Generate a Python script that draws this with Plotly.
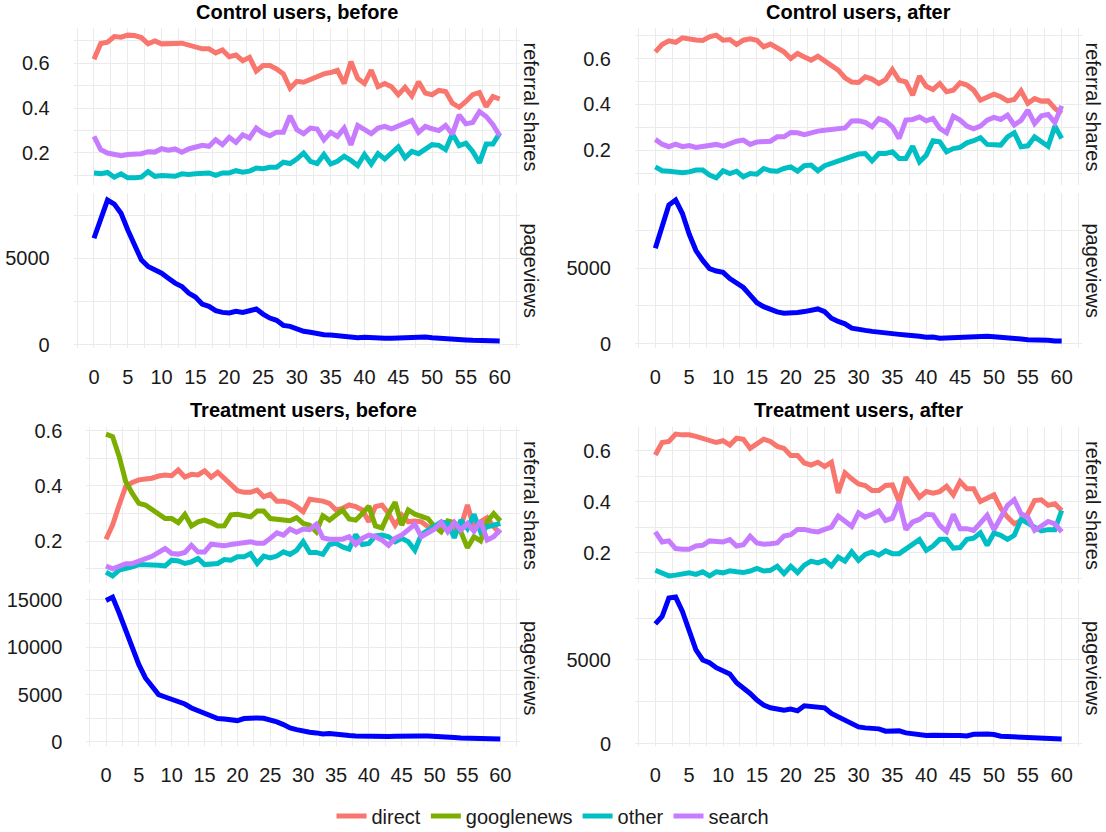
import plotly.graph_objects as go

days = list(range(0, 61))

# ---------------- Control users, before ----------------
cb_direct = [0.618,0.689,0.695,0.72,0.717,0.726,0.724,0.715,0.687,0.70,
             0.687,0.69,0.689,0.69,0.68,0.67,0.665,0.665,0.647,0.66,
             0.63,0.637,0.612,0.627,0.566,0.59,0.59,0.575,0.553,0.489,
             0.52,0.516,0.53,0.54,0.553,0.559,0.569,0.51,0.607,0.533,
             0.51,0.57,0.496,0.51,0.496,0.46,0.493,0.455,0.518,0.467,
             0.46,0.479,0.474,0.422,0.404,0.43,0.46,0.47,0.407,0.452,0.441]
cb_other = [0.111,0.108,0.113,0.092,0.107,0.089,0.089,0.092,0.117,0.096,
            0.099,0.1,0.096,0.107,0.104,0.107,0.107,0.111,0.1,0.111,
            0.111,0.121,0.114,0.119,0.133,0.13,0.136,0.136,0.159,0.153,
            0.173,0.2,0.163,0.153,0.193,0.151,0.163,0.185,0.167,0.144,
            0.193,0.151,0.197,0.173,0.2,0.227,0.178,0.207,0.197,0.215,
            0.237,0.234,0.215,0.286,0.233,0.244,0.207,0.156,0.24,0.24,0.289]
cb_search = [0.274,0.215,0.2,0.196,0.188,0.193,0.193,0.197,0.206,0.204,
             0.219,0.212,0.218,0.203,0.218,0.225,0.234,0.23,0.259,0.237,
             0.27,0.247,0.281,0.267,0.311,0.289,0.277,0.293,0.293,0.366,
             0.304,0.286,0.311,0.307,0.259,0.292,0.274,0.311,0.236,0.323,
             0.304,0.286,0.311,0.319,0.308,0.321,0.333,0.345,0.292,0.319,
             0.308,0.3,0.323,0.284,0.37,0.33,0.336,0.385,0.363,0.326,0.277]
cb_pageviews = [6154,7250,8365,8135,7596,6635,5769,4904,4519,4327,
                4135,3846,3558,3365,2981,2750,2346,2212,1962,1865,
                1827,1923,1865,1962,2058,1769,1538,1404,1115,1058,
                904,769,712,635,577,558,519,481,404,404,
                423,385,385,365,365,385,365,442,462,442,
                404,365,327,327,269,269,250,231,250,231,212]

# ---------------- Control users, after ----------------
ca_direct = [0.629,0.661,0.677,0.671,0.69,0.683,0.681,0.679,0.695,0.702,
             0.68,0.683,0.661,0.68,0.686,0.68,0.651,0.663,0.644,0.629,
             0.6,0.622,0.607,0.593,0.61,0.588,0.568,0.549,0.516,0.497,
             0.495,0.52,0.51,0.491,0.508,0.552,0.505,0.498,0.44,0.523,
             0.479,0.465,0.491,0.455,0.462,0.494,0.484,0.462,0.418,0.433,
             0.444,0.433,0.415,0.421,0.459,0.404,0.425,0.414,0.415,0.382,0.36]
ca_other = [0.127,0.11,0.108,0.105,0.101,0.105,0.113,0.113,0.091,0.079,
            0.11,0.098,0.108,0.084,0.098,0.095,0.12,0.11,0.108,0.12,
            0.127,0.108,0.132,0.135,0.11,0.132,0.142,0.156,0.164,0.174,
            0.183,0.185,0.153,0.185,0.185,0.193,0.164,0.164,0.217,0.149,
            0.178,0.241,0.236,0.193,0.207,0.212,0.232,0.241,0.254,0.225,
            0.222,0.222,0.258,0.276,0.215,0.219,0.258,0.236,0.217,0.305,0.251]
ca_search = [0.247,0.226,0.215,0.226,0.215,0.22,0.212,0.217,0.222,0.225,
             0.217,0.229,0.239,0.244,0.225,0.236,0.239,0.239,0.258,0.258,
             0.277,0.276,0.268,0.277,0.283,0.287,0.292,0.297,0.297,0.327,
             0.328,0.321,0.302,0.337,0.327,0.302,0.251,0.331,0.334,0.345,
             0.328,0.338,0.295,0.276,0.348,0.331,0.305,0.293,0.305,0.331,
             0.343,0.334,0.353,0.31,0.33,0.375,0.316,0.35,0.356,0.32,0.393]
ca_pageviews = [6304,7674,9152,9478,8587,7239,6152,5500,4957,4804,
                4717,4304,3978,3717,3217,2717,2457,2239,2109,2022,
                2022,2065,2130,2239,2304,2130,1696,1478,1326,1043,
                1000,891,826,761,717,674,630,587,565,500,
                435,457,370,391,413,478,500,522,500,500,
                478,457,413,370,326,283,283,261,239,196,196]

# ---------------- Treatment users, before ----------------
tb_direct = [0.207,0.258,0.331,0.398,0.413,0.422,0.425,0.428,0.436,0.44,
             0.437,0.458,0.432,0.442,0.44,0.455,0.432,0.45,0.428,0.406,
             0.383,0.377,0.377,0.385,0.361,0.37,0.345,0.345,0.339,0.325,
             0.307,0.352,0.349,0.345,0.337,0.313,0.319,0.331,0.325,0.313,
             0.27,0.325,0.331,0.3,0.258,0.295,0.27,0.273,0.27,0.252,
             0.246,0.255,0.258,0.24,0.252,0.331,0.248,0.27,0.285,0.252,0.228]
tb_googlenews = [0.588,0.579,0.507,0.416,0.373,0.337,0.331,0.313,0.298,0.282,
                 0.282,0.267,0.297,0.255,0.27,0.276,0.267,0.255,0.256,0.295,
                 0.297,0.291,0.288,0.309,0.309,0.282,0.28,0.28,0.274,0.285,
                 0.264,0.258,0.234,0.292,0.276,0.295,0.313,0.28,0.276,0.3,
                 0.327,0.255,0.248,0.3,0.341,0.258,0.313,0.298,0.292,0.282,
                 0.252,0.234,0.273,0.267,0.234,0.176,0.216,0.201,0.27,0.3,0.273]
tb_other = [0.088,0.074,0.095,0.1,0.107,0.115,0.115,0.113,0.113,0.11,
            0.131,0.128,0.119,0.125,0.137,0.115,0.115,0.119,0.133,0.131,
            0.143,0.143,0.155,0.119,0.146,0.139,0.146,0.161,0.152,0.167,
            0.198,0.159,0.159,0.152,0.188,0.192,0.179,0.171,0.224,0.188,
            0.192,0.219,0.222,0.216,0.198,0.21,0.198,0.167,0.224,0.24,
            0.252,0.27,0.264,0.212,0.276,0.246,0.297,0.234,0.252,0.258,0.264]
tb_search = [0.11,0.1,0.109,0.118,0.119,0.127,0.135,0.145,0.159,0.173,
             0.155,0.153,0.159,0.185,0.161,0.161,0.189,0.185,0.183,0.188,
             0.192,0.198,0.198,0.192,0.192,0.21,0.23,0.222,0.244,0.232,
             0.244,0.242,0.261,0.212,0.207,0.207,0.207,0.216,0.188,0.21,
             0.222,0.216,0.204,0.185,0.21,0.222,0.24,0.261,0.216,0.228,
             0.244,0.268,0.234,0.268,0.24,0.264,0.236,0.273,0.204,0.216,0.242]
tb_pageviews = [14930,15280,13600,11660,9730,8150,6745,5866,4990,4740,
                4530,4290,4000,3580,3300,2880,2630,2460,2420,2350,
                2250,2460,2530,2530,2490,2350,2110,1830,1475,1300,
                1124,1020,950,843,878,773,703,667,632,597,
                562,527,562,562,597,632,632,597,632,632,
                562,562,492,457,422,386,386,386,351,351,316]

# ---------------- Treatment users, after ----------------
ta_direct = [0.583,0.632,0.636,0.665,0.662,0.662,0.656,0.649,0.643,0.632,
             0.639,0.622,0.649,0.645,0.609,0.629,0.645,0.636,0.617,0.609,
             0.581,0.581,0.552,0.544,0.555,0.538,0.555,0.435,0.513,0.49,
             0.47,0.464,0.444,0.444,0.464,0.466,0.401,0.496,0.457,0.418,
             0.44,0.434,0.44,0.461,0.427,0.479,0.451,0.451,0.401,0.414,
             0.427,0.375,0.34,0.314,0.327,0.353,0.405,0.408,0.386,0.392,0.366]
ta_other = [0.132,0.119,0.11,0.113,0.119,0.122,0.116,0.126,0.11,0.126,
            0.122,0.13,0.126,0.123,0.129,0.139,0.129,0.132,0.148,0.119,
            0.148,0.123,0.152,0.168,0.161,0.171,0.149,0.184,0.168,0.204,
            0.171,0.194,0.204,0.191,0.208,0.197,0.197,0.214,0.23,0.252,
            0.21,0.227,0.253,0.253,0.219,0.221,0.253,0.258,0.279,0.23,
            0.278,0.269,0.253,0.269,0.331,0.314,0.301,0.286,0.291,0.291,0.366]
ta_search = [0.282,0.243,0.247,0.217,0.214,0.214,0.227,0.23,0.247,0.247,
             0.243,0.252,0.227,0.232,0.265,0.239,0.234,0.236,0.239,0.266,
             0.271,0.292,0.292,0.286,0.282,0.292,0.301,0.344,0.321,0.304,
             0.357,0.34,0.351,0.364,0.327,0.336,0.399,0.291,0.321,0.331,
             0.351,0.349,0.308,0.284,0.351,0.295,0.295,0.288,0.317,0.347,
             0.291,0.334,0.386,0.408,0.353,0.34,0.288,0.305,0.323,0.314,0.282]
ta_pageviews = [7160,7600,8700,8760,7900,6800,5600,5000,4840,4540,
                4340,4160,3640,3360,3000,2600,2300,2140,2100,2000,
                2060,1960,2260,2240,2200,2140,1800,1600,1360,1140,
                1000,940,920,880,740,760,760,640,580,520,
                480,500,480,440,480,480,460,560,600,580,
                540,440,420,400,380,360,340,280,280,300,280]

panel_titles = ["Control users, before", "Control users, after",
                "Treatment users, before", "Treatment users, after"]
strip_labels = ["referral shares", "pageviews"]
series_names = ["direct", "googlenews", "other", "search"]
series_colors = {"direct": "#F8766D", "googlenews": "#7CAE00",
                 "other": "#00BFC4", "search": "#C77CFF"}
pv_color = "#0000FF"

panels = [
    {"title": panel_titles[0], "shares": {"direct": cb_direct, "other": cb_other, "search": cb_search}, "pv": cb_pageviews},
    {"title": panel_titles[1], "shares": {"direct": ca_direct, "other": ca_other, "search": ca_search}, "pv": ca_pageviews},
    {"title": panel_titles[2], "shares": {"direct": tb_direct, "googlenews": tb_googlenews, "other": tb_other, "search": tb_search}, "pv": tb_pageviews},
    {"title": panel_titles[3], "shares": {"direct": ta_direct, "other": ta_other, "search": ta_search}, "pv": ta_pageviews},
]

W, H = 1106, 832
# pixel layout of the panels (left, right) and (top, bottom) of sub-panels
x_px = [(73.7, 520.0), (635.0, 1082.0), (86.3, 520.0), (635.0, 1082.0)]
row_px = [((28, 185), (193, 348)), ((28, 185), (193, 348)),
          ((427, 583), (590, 746)), ((427, 583), (590, 746))]
title_y_px = [12, 12, 410, 410]

FONT = "Liberation Sans, Arial, Helvetica, sans-serif"
TXT = "#1a1a1a"
GRID = "#EBEBEB"

def expand(vals):
    lo, hi = min(vals), max(vals)
    d = (hi - lo) * 0.05
    return [lo - d, hi + d]

fig = go.Figure()
layout = dict(width=W, height=H,
              margin=dict(l=0, r=0, t=0, b=0, pad=0, autoexpand=False),
              paper_bgcolor="white", plot_bgcolor="white",
              font=dict(family=FONT, size=20, color=TXT),
              showlegend=True,
              legend=dict(orientation="h", x=0.5, xanchor="center",
                          y=1 - 816 / H, yanchor="middle",
                          font=dict(size=20, color=TXT), itemwidth=30,
                          traceorder="normal", bgcolor="rgba(0,0,0,0)"),
              annotations=[])

shown = set()
rank = {n: i + 1 for i, n in enumerate(series_names)}
for p, panel in enumerate(panels):
    xl, xr = x_px[p]
    xdom = [xl / W, xr / W]
    for s in range(2):
        k = p * 2 + s + 1
        top, bot = row_px[p][s]
        ydom = [1 - bot / H, 1 - top / H]
        xa = "xaxis" if k == 1 else f"xaxis{k}"
        ya = "yaxis" if k == 1 else f"yaxis{k}"
        xref = "x" if k == 1 else f"x{k}"
        yref = "y" if k == 1 else f"y{k}"
        layout[xa] = dict(domain=xdom, anchor=yref, range=[-3, 63],
                          tick0=0, dtick=5, showgrid=True, gridcolor=GRID, gridwidth=1.1,
                          zeroline=False, showline=False, ticks="", automargin=False,
                          showticklabels=(s == 1), ticklabelstandoff=15,
                          tickfont=dict(size=20, color=TXT),
                          minor=dict(dtick=2.5, tick0=0, showgrid=True, gridcolor=GRID, gridwidth=0.7),
                          fixedrange=True)
        if s == 0:
            allv = [v for arr in panel["shares"].values() for v in arr]
            layout[ya] = dict(domain=ydom, anchor=xref, range=expand(allv),
                              tick0=0, dtick=0.2, tickformat=".1f")
            mdt = 0.1
            for name in series_names:
                if name not in panel["shares"]:
                    continue
                fig.add_trace(go.Scatter(
                    x=days, y=panel["shares"][name], mode="lines", name=name,
                    line=dict(color=series_colors[name], width=5),
                    legendgroup=name, legendrank=rank[name],
                    showlegend=name not in shown, xaxis=xref, yaxis=yref,
                    hoverinfo="skip"))
                shown.add(name)
        else:
            layout[ya] = dict(domain=ydom, anchor=xref, range=expand(panel["pv"]),
                              tick0=0, dtick=5000, tickformat="d")
            mdt = 2500
            fig.add_trace(go.Scatter(
                x=days, y=panel["pv"], mode="lines", name="pageviews",
                line=dict(color=pv_color, width=5), showlegend=False,
                xaxis=xref, yaxis=yref, hoverinfo="skip"))
        layout[ya].update(showgrid=True, gridcolor=GRID, gridwidth=1.1, zeroline=False,
                          showline=False, ticks="", ticklabelstandoff=23, automargin=False,
                          tickfont=dict(size=20, color=TXT),
                          minor=dict(dtick=mdt, tick0=0, showgrid=True, gridcolor=GRID, gridwidth=0.7),
                          fixedrange=True)
        # strip label on the right
        layout["annotations"].append(dict(
            text=strip_labels[s], xref="paper", yref="paper",
            x=(xr + 11) / W, y=1 - (top + bot) / 2 / H,
            xanchor="center", yanchor="middle", textangle=90, showarrow=False,
            font=dict(size=20, color=TXT)))
    layout["annotations"].append(dict(
        text="<b>" + panel["title"] + "</b>", xref="paper", yref="paper",
        x=(xl + xr) / 2 / W, y=1 - title_y_px[p] / H,
        xanchor="center", yanchor="middle", showarrow=False,
        font=dict(size=20, color="black")))

fig.update_layout(**layout)
fig.write_html("out.html", config={"displayModeBar": False},
               post_script="document.body.style.margin='0';")
